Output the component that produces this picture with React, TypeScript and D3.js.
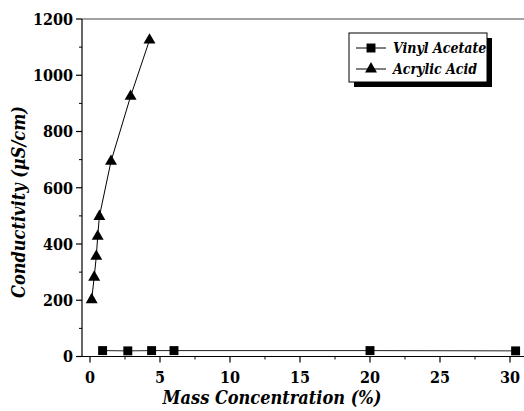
import React from "react";
import * as d3 from "d3";

// Conductivity vs. mass concentration for two monomers
const vinylX = [0.9, 2.7, 4.4, 6.0, 20.0, 30.4];
const vinylY = [21, 20, 21, 21, 21, 20];
const acrylicX = [0.12, 0.3, 0.45, 0.55, 0.67, 1.5, 2.9, 4.25];
const acrylicY = [202, 282, 356, 427, 498, 694, 925, 1125];

const xTicks = [0, 5, 10, 15, 20, 25, 30];
const xMinor = [2.5, 7.5, 12.5, 17.5, 22.5, 27.5];
const yTicks = [0, 200, 400, 600, 800, 1000, 1200];
const yMinor = [100, 300, 500, 700, 900, 1100];

const seriesNames = ["Vinyl Acetate", "Acrylic Acid"];

const W = 524;
const H = 411;
const left = 82;
const top = 19;
const bottom = 356.5;

const serif = { fontFamily: "'DejaVu Serif Condensed', 'DejaVu Serif'", fontStretch: "condensed" };

export default function App() {
  const x = d3.scaleLinear().domain([0, 30]).range([90, 510]);
  const y = d3.scaleLinear().domain([0, 1200]).range([bottom, top]);

  const line = d3
    .line<[number, number]>()
    .x((d) => x(d[0]))
    .y((d) => y(d[1]));

  const vinyl: [number, number][] = vinylX.map((v, i) => [v, vinylY[i]]);
  const acrylic: [number, number][] = acrylicX.map((v, i) => [v, acrylicY[i]]);

  const sq = d3.symbol(d3.symbolSquare, 80)()!;
  const tri = d3.symbol(d3.symbolTriangle, 62)()!;

  const legX = 349;
  const legY = 33;
  const legW = 138;
  const legH = 49;

  return (
    <svg
      width={W}
      height={H}
      style={{ position: "absolute", left: 0, top: 0, background: "#fff", ...serif }}
    >
      {/* frame */}
      <line x1={left} x2={W} y1={top} y2={top} stroke="#444" strokeWidth={1} />
      <line x1={left} x2={left} y1={top} y2={bottom} stroke="#000" strokeWidth={1.2} />
      <line x1={left} x2={W} y1={bottom} y2={bottom} stroke="#000" strokeWidth={1.2} />

      {/* y ticks */}
      {yTicks.map((t) => (
        <g key={"y" + t}>
          <line x1={left - 6} x2={left} y1={y(t)} y2={y(t)} stroke="#000" strokeWidth={1.2} />
          <text
            x={left - 9}
            y={y(t)}
            dy="0.36em"
            textAnchor="end"
            fontSize={16}
            fontWeight="bold"
            style={serif}
          >
            {t}
          </text>
        </g>
      ))}
      {yMinor.map((t) => (
        <line key={"ym" + t} x1={left - 3} x2={left} y1={y(t)} y2={y(t)} stroke="#000" strokeWidth={1} />
      ))}

      {/* x ticks */}
      {xTicks.map((t) => (
        <g key={"x" + t}>
          <line x1={x(t)} x2={x(t)} y1={bottom} y2={bottom + 6} stroke="#000" strokeWidth={1.2} />
          <text x={x(t)} y={383} textAnchor="middle" fontSize={16} fontWeight="bold" style={serif}>
            {t}
          </text>
        </g>
      ))}
      {xMinor.map((t) => (
        <line key={"xm" + t} x1={x(t)} x2={x(t)} y1={bottom} y2={bottom + 3} stroke="#000" strokeWidth={1} />
      ))}

      {/* axis titles */}
      <text
        x={272}
        y={404}
        textAnchor="middle"
        fontSize={18}
        fontWeight="bold"
        fontStyle="italic"
        style={serif}
      >
        Mass Concentration (%)
      </text>
      <text
        transform={`translate(25,202) rotate(-90)`}
        textAnchor="middle"
        fontSize={18}
        fontWeight="bold"
        fontStyle="italic"
        style={serif}
      >
        Conductivity (μS/cm)
      </text>

      {/* series */}
      <path d={line(vinyl)!} fill="none" stroke="#222" strokeWidth={1} />
      <path d={line(acrylic)!} fill="none" stroke="#000" strokeWidth={1} />
      {vinyl.map((d, i) => (
        <path key={"v" + i} d={sq} transform={`translate(${x(d[0])},${y(d[1])})`} fill="#000" />
      ))}
      {acrylic.map((d, i) => (
        <path key={"a" + i} d={tri} transform={`translate(${x(d[0])},${y(d[1])})`} fill="#000" />
      ))}

      {/* legend */}
      <rect x={legX + 5} y={legY + 5} width={legW} height={legH} fill="#000" />
      <rect x={legX} y={legY} width={legW} height={legH} fill="#fff" stroke="#000" strokeWidth={1} />
      {seriesNames.map((name, i) => {
        const ly = legY + 15 + i * 21;
        return (
          <g key={name}>
            <line x1={legX + 7} x2={legX + 37} y1={ly} y2={ly} stroke="#000" strokeWidth={1} />
            <path
              d={i === 0 ? sq : tri}
              transform={`translate(${legX + 22},${ly})`}
              fill="#000"
            />
            <text
              x={legX + 44}
              y={ly}
              dy="0.36em"
              fontSize={14}
              fontWeight="bold"
              fontStyle="italic"
              style={serif}
            >
              {name}
            </text>
          </g>
        );
      })}
    </svg>
  );
}
